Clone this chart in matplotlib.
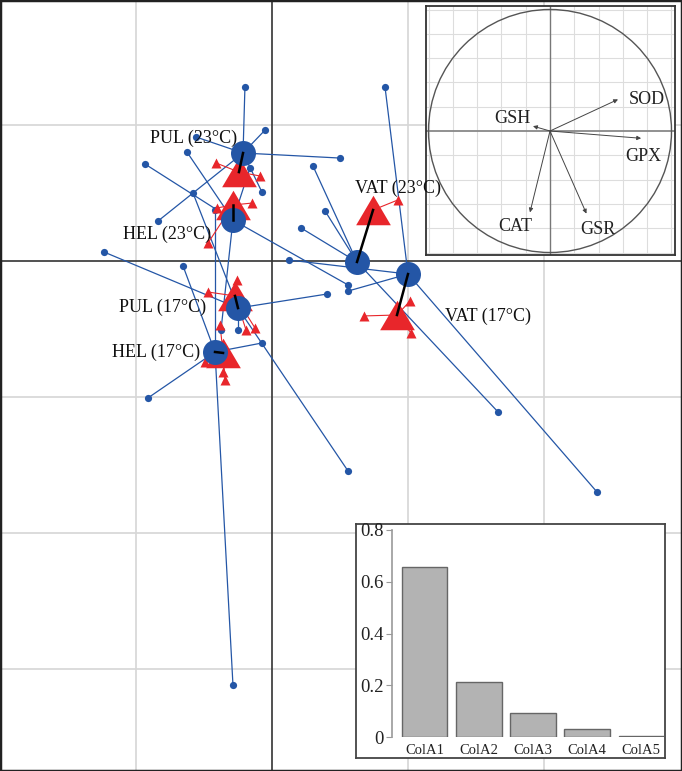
import matplotlib
matplotlib.use("Agg")
import matplotlib.pyplot as plt
import numpy as np
from matplotlib.patches import Circle

plt.rcParams['font.family'] = ['Liberation Serif', 'DejaVu Serif']

# ---------------- data ----------------
groups = ["PUL (23°C)", "HEL (23°C)", "PUL (17°C)", "HEL (17°C)", "VAT (23°C)", "VAT (17°C)"]

# centroids of table 1 (blue) and table 2 (red)
blue_cx = [-0.213, -0.287, -0.250, -0.419, 0.625, 1.000]
blue_cy = [0.794, 0.301, -0.346, -0.669, -0.007, -0.096]
red_cx = [-0.243, -0.287, -0.272, -0.360, 0.743, 0.919]
red_cy = [0.654, 0.412, -0.257, -0.676, 0.375, -0.397]

# individual blue scores (x, y) and group index
blue_x = [-0.199, -0.051, -0.559, 0.500, -0.838, -0.074,
          -0.625, -0.934, -0.162, 0.559, -0.375,
          -0.581, -1.235, 0.404, -0.250, 0.559,
          -0.419, -0.654, -0.074, -0.912, -0.287,
          0.301, 0.390, 0.213, 1.662,
          0.831, 0.559, 2.390, 0.125]
blue_y = [1.279, 0.963, 0.912, 0.757, 0.294, 0.507,
          0.801, 0.713, 0.684, -0.176, -0.507,
          0.500, 0.066, -0.243, -0.507, -1.544,
          0.375, -0.037, -0.603, -1.007, -3.118,
          0.699, 0.368, 0.243, -1.110,
          1.279, -0.221, -1.699, 0.007]
blue_g = [0, 0, 0, 0, 0, 0,
          1, 1, 1, 1, 1,
          2, 2, 2, 2, 2,
          3, 3, 3, 3, 3,
          4, 4, 4, 4,
          5, 5, 5, 5]

# individual red scores
red_x = [-0.412, -0.088,
         -0.404, -0.147, -0.471,
         -0.471, -0.257, -0.125, -0.191,
         -0.382, -0.493, -0.360, -0.346,
         0.926,
         0.676, 1.015, 1.022]
red_y = [0.721, 0.625,
         0.390, 0.426, 0.132,
         -0.228, -0.140, -0.493, -0.507,
         -0.471, -0.743, -0.816, -0.875,
         0.449,
         -0.404, -0.294, -0.529]
red_g = [0, 0,
         1, 1, 1,
         2, 2, 2, 2,
         3, 3, 3, 3,
         4,
         5, 5, 5]

# label positions (data coords, text centre)
label_x = [-0.574, -0.772, -0.805, -0.849, 0.923, 1.588]
label_y = [0.904, 0.199, -0.338, -0.669, 0.537, -0.404]

# correlation circle
var_names = ["SOD", "GPX", "GSH", "CAT", "GSR"]
var_x = [0.56, 0.75, -0.14, -0.165, 0.30]
var_y = [0.26, -0.06, 0.04, -0.67, -0.68]
var_lab_x = [0.80, 0.77, -0.31, -0.29, 0.39]
var_lab_y = [0.26, -0.21, 0.10, -0.79, -0.81]

# eigenvalues
eig_names = ["ColA1", "ColA2", "ColA3", "ColA4", "ColA5"]
eig_vals = [0.657, 0.213, 0.093, 0.031, 0.003]

BLUE = "#2456a6"
RED = "#e8262b"

W, H = 682, 771
fig = plt.figure(figsize=(W / 100, H / 100), dpi=100)

# ---------------- main plot ----------------
ax = fig.add_axes([0, 0, 1, 1])
ax.set_xlim(-272 / 136, (W - 272) / 136)
ax.set_ylim((261 - H) / 136, 261 / 136)
ax.set_xticks([])
ax.set_yticks([])
for s in ax.spines.values():
    s.set_linewidth(2.5)
    s.set_color("#222222")

for gx in [-1, 1, 2]:
    ax.axvline(gx, color="#d6d6d6", lw=1.2, zorder=0)
for gy in [1, -1, -2, -3]:
    ax.axhline(gy, color="#d6d6d6", lw=1.2, zorder=0)
ax.axvline(0, color="#333333", lw=1.2, zorder=0.5)
ax.axhline(0, color="#333333", lw=1.2, zorder=0.5)

tri = [(-1, -0.85), (1, -0.85), (0, 0.85), (-1, -0.85)]

# blue star
for x, y, g in zip(blue_x, blue_y, blue_g):
    ax.plot([x, blue_cx[g]], [y, blue_cy[g]], color=BLUE, lw=0.9, zorder=3)
ax.plot(blue_x, blue_y, "o", color=BLUE, ms=5.2, mec="none", zorder=4)

# red star
for x, y, g in zip(red_x, red_y, red_g):
    ax.plot([x, red_cx[g]], [y, red_cy[g]], color=RED, lw=0.8, zorder=3)
ax.plot(red_x, red_y, "^", color=RED, ms=6.5, mec="none", zorder=4)

ax.plot(red_cx, red_cy, linestyle="none", marker=tri, color=RED, ms=25,
        mec="none", zorder=5)
ax.plot(blue_cx, blue_cy, "o", color=BLUE, ms=18, mec="none", zorder=6)

for i in range(len(groups)):
    ax.plot([blue_cx[i], red_cx[i]], [blue_cy[i], red_cy[i]],
            color="black", lw=1.8, zorder=7)

# ---------------- correlation circle inset ----------------
r = 121.5
ax2 = fig.add_axes([426 / W, 1 - 255 / H, 249 / W, 249 / H], zorder=3)
ax2.set_xlim(-124 / r, 125 / r)
ax2.set_ylim(-124 / r, 125 / r)
ax2.set_xticks([])
ax2.set_yticks([])
ax2.set_facecolor("white")
for s in ax2.spines.values():
    s.set_linewidth(1.3)
    s.set_color("#333333")
for v in np.arange(-1.0, 1.01, 0.2):
    if abs(v) < 1e-9:
        continue
    ax2.axvline(v, color="#dddddd", lw=0.8, zorder=0)
    ax2.axhline(v, color="#dddddd", lw=0.8, zorder=0)
ax2.axvline(0, color="#777777", lw=1.0, zorder=1)
ax2.axhline(0, color="#888888", lw=1.3, zorder=1)
ax2.add_patch(Circle((0, 0), 1, fill=False, ec="#555555", lw=1.0, zorder=2))
for i, n in enumerate(var_names):
    ax2.annotate("", xy=(var_x[i], var_y[i]), xytext=(0, 0),
                 arrowprops=dict(arrowstyle="-|>", color="#444444", lw=0.7,
                                 mutation_scale=6, shrinkA=0, shrinkB=0),
                 zorder=3)
    ax2.text(var_lab_x[i], var_lab_y[i], n, ha="center", va="center",
             fontsize=13, color="#222222", zorder=4)

# group labels drawn above everything (as in the reference)
for i, g in enumerate(groups):
    fig.text(label_x[i], label_y[i], g, ha="center", va="center",
             fontsize=13, color="#111111", transform=ax.transData, zorder=10)

# ---------------- eigenvalue inset ----------------
axb = fig.add_axes([356 / W, 1 - 758 / H, 309 / W, 234 / H], zorder=3)
axb.set_xticks([])
axb.set_yticks([])
axb.set_facecolor("white")
for s in axb.spines.values():
    s.set_linewidth(1.3)
    s.set_color("#444444")

ax3 = fig.add_axes([392 / W, 1 - 737 / H, (664 - 392) / W, (737 - 530) / H], zorder=4)
ax3.patch.set_alpha(0)
xs = np.arange(len(eig_vals))
ax3.bar(xs, eig_vals, width=0.84, color="#b3b3b3", edgecolor="#666666", lw=1.0)
ax3.set_xlim(-0.605, 4.42)
ax3.set_ylim(0, 0.8)
for side in ["top", "right", "bottom"]:
    ax3.spines[side].set_visible(False)
ax3.spines["left"].set_color("#999999")
ax3.spines["left"].set_linewidth(1.2)
ax3.set_yticks([0, 0.2, 0.4, 0.6, 0.8])
ax3.set_yticklabels(["0", "0.2", "0.4", "0.6", "0.8"])
ax3.tick_params(axis="y", length=4, color="#999999", labelsize=13.5, pad=2,
                labelcolor="#222222")
ax3.set_xticks(xs)
ax3.set_xticklabels(eig_names)
ax3.tick_params(axis="x", length=0, labelsize=10.5, pad=5, labelcolor="#222222")

fig.savefig("out.png", dpi=100)
